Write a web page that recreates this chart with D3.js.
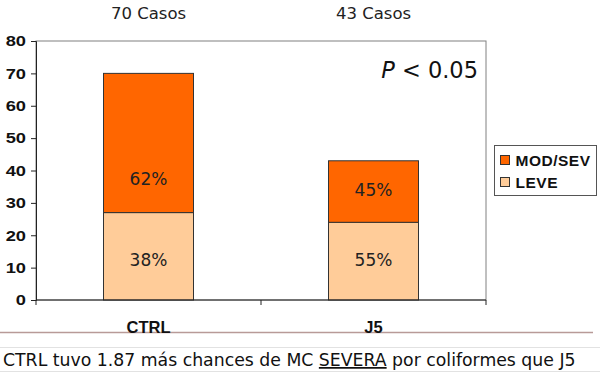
<!DOCTYPE html>
<html>
<head>
<meta charset="utf-8">
<script src="https://cdn.jsdelivr.net/npm/d3@7"></script>
<style>
  body { margin: 0; background: #fff; }
  svg { display: block; }
</style>
</head>
<body>
<div id="chart"></div>
<script>
// datos del grafico
const categories = ['CTRL', 'J5']
const casos = ['70 Casos', '43 Casos']
const leve = [27, 24]
const modSev = [43, 19]
const pctLeve = ['38%', '55%']
const pctMod = ['62%', '45%']
// altura (en unidades del eje) donde va cada etiqueta de porcentaje
const leveLabelAt = [12.5, 12.5]
const modLabelAt = [37.3, 34]
const yTicks = [0, 10, 20, 30, 40, 50, 60, 70, 80]
const seriesNames = ['MOD/SEV', 'LEVE']
const seriesColors = ['#ff6600', '#ffcc99']

const width = 600
const height = 373
const margin = { top: 41, right: 114, bottom: 73, left: 36 }

const svg = d3.select('#chart')
  .append('svg')
  .attr('width', width)
  .attr('height', height)

const x = d3.scaleBand()
  .domain(categories)
  .range([margin.left, width - margin.right])
  .paddingInner(0.6)
  .paddingOuter(0.3)

const xOuter = d3.scaleBand()
  .domain(categories)
  .range([margin.left, width - margin.right])

const y = d3.scaleLinear()
  .domain([0, 80])
  .range([height - margin.bottom, margin.top])

// marco del area de grafico
svg.append('rect')
  .attr('x', margin.left)
  .attr('y', margin.top)
  .attr('width', width - margin.right - margin.left)
  .attr('height', height - margin.bottom - margin.top)
  .attr('fill', 'none')
  .attr('stroke', '#808080')
  .attr('stroke-width', 1)

// barras apiladas
const rows = categories.map((c, i) => ({ cat: c, leve: leve[i], mod: modSev[i], i }))

const g = svg.append('g')
g.selectAll('rect.leve')
  .data(rows)
  .enter()
  .append('rect')
  .attr('class', 'leve')
  .attr('x', d => x(d.cat))
  .attr('width', x.bandwidth())
  .attr('y', d => y(d.leve))
  .attr('height', d => y(0) - y(d.leve))
  .attr('fill', seriesColors[1])
  .attr('stroke', '#333')
  .attr('stroke-width', 1)

g.selectAll('rect.mod')
  .data(rows)
  .enter()
  .append('rect')
  .attr('class', 'mod')
  .attr('x', d => x(d.cat))
  .attr('width', x.bandwidth())
  .attr('y', d => y(d.leve + d.mod))
  .attr('height', d => y(d.leve) - y(d.leve + d.mod))
  .attr('fill', seriesColors[0])
  .attr('stroke', '#333')
  .attr('stroke-width', 1)

// porcentajes
g.selectAll('text.pl')
  .data(rows)
  .enter()
  .append('text')
  .attr('x', d => x(d.cat) + x.bandwidth() / 2)
  .attr('y', d => y(leveLabelAt[d.i]) + 6)
  .attr('text-anchor', 'middle')
  .style('font-family', 'DejaVu Sans, Verdana, sans-serif')
  .style('font-size', '17px')
  .attr('fill', '#222')
  .text(d => pctLeve[d.i])

g.selectAll('text.pm')
  .data(rows)
  .enter()
  .append('text')
  .attr('x', d => x(d.cat) + x.bandwidth() / 2)
  .attr('y', d => y(modLabelAt[d.i]) + 6)
  .attr('text-anchor', 'middle')
  .style('font-family', 'DejaVu Sans, Verdana, sans-serif')
  .style('font-size', '17px')
  .attr('fill', '#222')
  .text(d => pctMod[d.i])

// eje y
const yAxis = svg.append('g')
  .attr('transform', `translate(${margin.left},0)`)
  .call(d3.axisLeft(y).tickValues(yTicks).tickSize(5).tickPadding(5))
yAxis.select('.domain').attr('stroke', '#222')
yAxis.selectAll('.tick line').attr('stroke', '#222')
yAxis.selectAll('text')
  .attr('x', 0)
  .attr('transform', 'translate(-10,0) scale(1.22,1)')
  .style('font-family', 'Liberation Sans, Arial, sans-serif')
  .style('font-size', '15px')
  .style('font-weight', 'bold')
  .attr('fill', '#111')

// eje x (solo linea y marcas)
const xAxisG = svg.append('g')
  .attr('transform', `translate(0,${y(0)})`)
xAxisG.append('line')
  .attr('x1', margin.left)
  .attr('x2', width - margin.right)
  .attr('stroke', '#222')
const xTickPos = [margin.left].concat(categories.map(c => xOuter(c) + xOuter.bandwidth()))
xAxisG.selectAll('line.t')
  .data(xTickPos)
  .enter()
  .append('line')
  .attr('x1', d => d)
  .attr('x2', d => d)
  .attr('y1', 0)
  .attr('y2', 5)
  .attr('stroke', '#222')

// linea horizontal marron
svg.append('line')
  .attr('x1', 0)
  .attr('x2', 593)
  .attr('y1', 332.5)
  .attr('y2', 332.5)
  .attr('stroke', '#b89a98')
  .attr('stroke-width', 1.6)

// etiquetas de categoria
svg.selectAll('text.cat')
  .data(categories)
  .enter()
  .append('text')
  .attr('x', d => xOuter(d) + xOuter.bandwidth() / 2)
  .attr('y', 333)
  .attr('text-anchor', 'middle')
  .style('font-family', 'Liberation Sans, Arial, sans-serif')
  .style('font-size', '16.5px')
  .style('font-weight', 'bold')
  .attr('fill', '#111')
  .text(d => d)

// casos arriba
svg.selectAll('text.casos')
  .data(categories)
  .enter()
  .append('text')
  .attr('x', d => xOuter(d) + xOuter.bandwidth() / 2)
  .attr('y', 19)
  .attr('text-anchor', 'middle')
  .style('font-family', 'DejaVu Sans, Verdana, sans-serif')
  .style('font-size', '16.5px')
  .attr('fill', '#222')
  .text((d, i) => casos[i])

// p valor
const pText = svg.append('text')
  .attr('x', 478)
  .attr('y', 78)
  .attr('text-anchor', 'end')
  .style('font-family', 'DejaVu Sans, Verdana, sans-serif')
  .style('font-size', '22.5px')
  .attr('fill', '#111')
pText.append('tspan').style('font-style', 'italic').text('P')
pText.append('tspan').text(' < 0.05')

// leyenda
const legend = svg.append('g')
legend.append('rect')
  .attr('x', 494.5)
  .attr('y', 145.5)
  .attr('width', 102)
  .attr('height', 50)
  .attr('fill', '#fff')
  .attr('stroke', '#555')
const items = legend.selectAll('g.item')
  .data(seriesNames)
  .enter()
  .append('g')
  .attr('transform', (d, i) => `translate(500.5,${155.5 + i * 22})`)
items.append('rect')
  .attr('width', 9)
  .attr('height', 9)
  .attr('fill', (d, i) => seriesColors[i])
  .attr('stroke', '#333')
items.append('text')
  .attr('x', 15)
  .attr('y', 10.5)
  .style('font-family', 'Liberation Sans, Arial, sans-serif')
  .style('font-size', '15.5px')
  .style('font-weight', 'bold')
  .style('letter-spacing', '0.5px')
  .attr('fill', '#111')
  .text(d => d)

// texto inferior
svg.append('line')
  .attr('x1', 0).attr('x2', 600)
  .attr('y1', 347.5).attr('y2', 347.5)
  .attr('stroke', '#e2e2e2')
svg.append('line')
  .attr('x1', 0).attr('x2', 600)
  .attr('y1', 371.5).attr('y2', 371.5)
  .attr('stroke', '#e2e2e2')
const note = svg.append('text')
  .attr('x', 3)
  .attr('y', 366)
  .style('font-family', 'DejaVu Sans, Verdana, sans-serif')
  .style('font-size', '17.3px')
  .attr('fill', '#111')
note.append('tspan').text('CTRL tuvo 1.87 más chances de MC ')
note.append('tspan').style('text-decoration', 'underline').text('SEVERA')
note.append('tspan').text(' por coliformes que J5')
</script>
</body>
</html>
